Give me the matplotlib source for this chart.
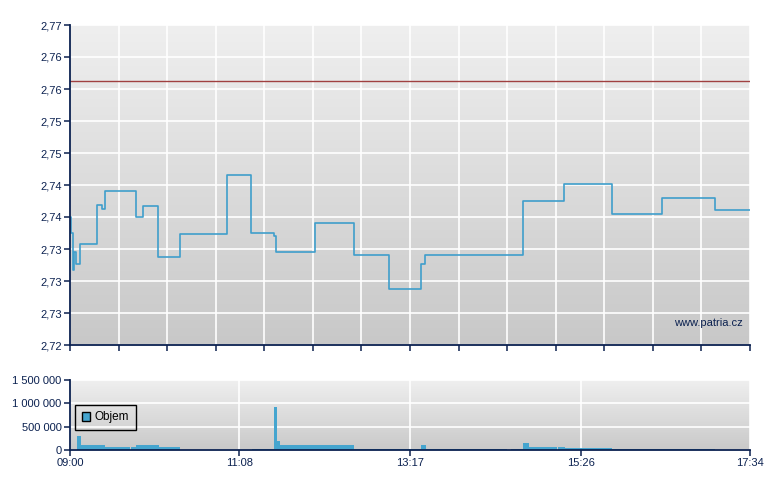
import numpy as np
import matplotlib
matplotlib.use("Agg")
import matplotlib.pyplot as plt
from matplotlib.patches import Patch

# ---------------- data ----------------
# minutes after 09:00, price (step-post)
price_t = [0, 0.6, 2.2, 3.0, 4.8, 7.8, 20.4, 24.4, 26.7, 49.7, 55.4, 66.7, 82.9,
           118.4, 137.0, 154.4, 155.7, 185.0, 214.7, 240.9, 265.1, 268.6,
           342.6, 373.6, 409.5, 447.7, 487.5, 514]
price_v = [2.7400, 2.7375, 2.7317, 2.7345, 2.7326, 2.7358, 2.7418, 2.7412, 2.7440,
           2.7400, 2.7417, 2.7338, 2.7373, 2.7465, 2.7375, 2.7371, 2.7346, 2.7390,
           2.7340, 2.7288, 2.7327, 2.7340, 2.7425, 2.7451, 2.7405, 2.7429, 2.7411,
           2.7411]
ref_price = 2.7612

vol_start = [5.3, 8.3, 26.5, 46.1, 50.1, 67.3, 137.8, 154.2, 156.2, 158.5, 214.4,
             265.3, 269.1, 333.3, 342.4, 346.9, 368.9, 374.2, 409.5]
vol_end = [8.3, 26.5, 45.1, 50.1, 67.3, 83.1, 154.2, 156.2, 158.5, 214.4, 265.3,
           269.1, 330.1, 342.4, 346.9, 368.1, 374.2, 409.5, 487.5]
vol_val = [300000, 110000, 65000, 65000, 110000, 65000, 20000, 920000, 200000,
           110000, 20000, 110000, 20000, 20000, 155000, 68000, 68000, 48000, 20000]

price_ticks = [2.72, 2.725, 2.73, 2.735, 2.74, 2.745, 2.75, 2.755, 2.76, 2.765, 2.77]
price_labels = ["2,72", "2,73", "2,73", "2,73", "2,74", "2,74", "2,75", "2,75",
                "2,76", "2,76", "2,77"]
vol_ticks = [0, 500000, 1000000, 1500000]
vol_labels = ["0", "500 000", "1 000 000", "1 500 000"]
time_ticks = [0, 128, 257, 386, 514]
time_labels = ["09:00", "11:08", "13:17", "15:26", "17:34"]
T_END = 514

# ---------------- style ----------------
NAVY = "#0b2150"
LINE = "#3f9ecb"
BAR = "#45a5cf"
plt.rcParams["font.family"] = ["Liberation Sans", "DejaVu Sans"]
plt.rcParams["font.size"] = 8

fig = plt.figure(figsize=(7.8, 4.9), dpi=100)
ax = fig.add_axes([70/780, 1-345/490, 680/780, 320/490])
axv = fig.add_axes([70/780, 1-450/490, 680/780, 70/490])

def gradient(a, top, bottom):
    g = np.linspace(0, 1, 256).reshape(-1, 1)
    c1 = np.array(matplotlib.colors.to_rgb(top))
    c2 = np.array(matplotlib.colors.to_rgb(bottom))
    img = c1[None, None, :] * (1 - g[:, :, None]) + c2[None, None, :] * g[:, :, None]
    a.imshow(img, extent=[0, 1, 0, 1], transform=a.transAxes, aspect="auto",
             zorder=0, origin="upper")

for a in (ax, axv):
    a.set_facecolor("none")
    for s in ("top", "right"):
        a.spines[s].set_visible(False)
    for s in ("left", "bottom"):
        a.spines[s].set_color(NAVY)
        a.spines[s].set_linewidth(1.3)
        a.spines[s].set_zorder(5)
    a.tick_params(colors=NAVY, length=4, width=1.1, pad=2, labelcolor=NAVY,
                  labelsize=8)

# ---------------- price chart ----------------
gradient(ax, "#efefef", "#c8c8c8")
ax.set_xlim(0, T_END)
ax.set_ylim(2.72, 2.77)
ax.set_yticks(price_ticks)
ax.set_yticklabels(price_labels)
ax.set_xticks(np.linspace(0, T_END, 15))
ax.set_xticklabels([])
ax.grid(True, color="white", linewidth=1.2, zorder=1)
ax.set_axisbelow(True)
ax.axhline(ref_price, color="#a04040", linewidth=1.0, zorder=3)
ax.plot(price_t, price_v, drawstyle="steps-post", color=LINE, linewidth=1.2,
        zorder=4)
ax.text(0.990, 0.068, "www.patria.cz", transform=ax.transAxes, ha="right",
        va="center", color=NAVY, fontsize=8, zorder=6)

# ---------------- volume chart ----------------
gradient(axv, "#efefef", "#c9c9c9")
axv.set_xlim(0, T_END)
axv.set_ylim(0, 1500000)
axv.set_yticks(vol_ticks)
axv.set_yticklabels(vol_labels)
axv.set_xticks(time_ticks)
axv.set_xticklabels(time_labels)
axv.grid(True, color="white", linewidth=1.2, zorder=1)
axv.set_axisbelow(True)
widths = [e - s for s, e in zip(vol_start, vol_end)]
axv.bar(vol_start, vol_val, width=widths, align="edge", color=BAR,
        linewidth=0, zorder=3)
leg = axv.legend(handles=[Patch(facecolor=BAR, edgecolor="black", linewidth=1.0,
                                label="Objem")],
                 loc="upper left", bbox_to_anchor=(0.0074, 0.643),
                 frameon=True, fancybox=False, framealpha=1, facecolor="none",
                 edgecolor="black",
                 handlelength=0.75, handleheight=0.75, handletextpad=0.35,
                 borderpad=0.55, borderaxespad=0, fontsize=8.5)
leg.get_frame().set_linewidth(1.0)
leg.set_zorder(6)
for t in leg.get_texts():
    t.set_color("black")

fig.savefig("out.png", dpi=100)
